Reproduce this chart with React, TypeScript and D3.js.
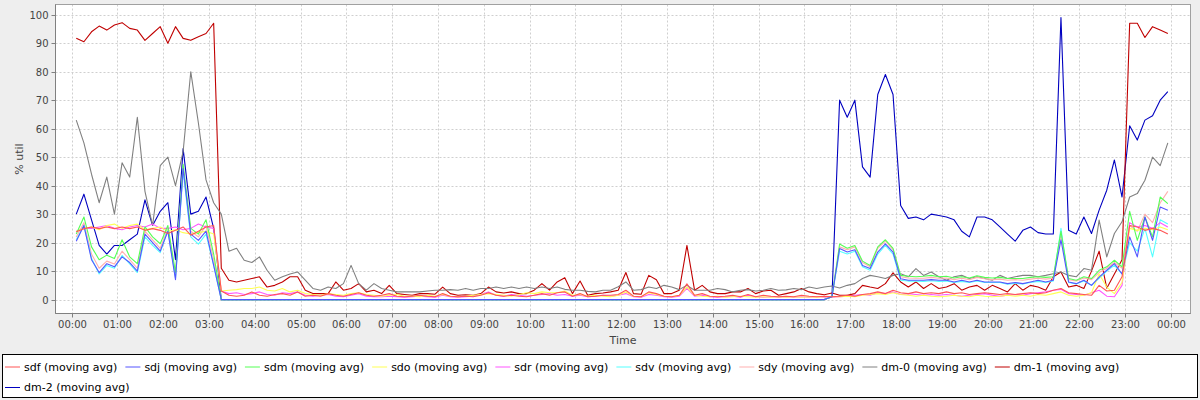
import React, { useEffect, useRef } from 'react';
import * as d3 from 'd3';

// time axis: first sample at 00:06, one sample every 10 minutes (144 samples)
const START_MIN = 6;
const STEP_MIN = 10;
const hourTicks = [0, 1, 2, 3, 4, 5, 6, 7, 8, 9, 10, 11, 12, 13, 14, 15, 16, 17, 18, 19, 20, 21, 22, 23, 24];
const yTicks = [0, 10, 20, 30, 40, 50, 60, 70, 80, 90, 100];

const seriesNames = [
  'sdf (moving avg)', 'sdj (moving avg)', 'sdm (moving avg)', 'sdo (moving avg)', 'sdr (moving avg)',
  'sdv (moving avg)', 'sdy (moving avg)', 'dm-0 (moving avg)', 'dm-1 (moving avg)', 'dm-2 (moving avg)',
];
const seriesColors = ['#ff5555', '#5555ff', '#55ff55', '#ffff55', '#ff55ff', '#55ffff', '#ffafaf', '#808080', '#c00000', '#0000c0'];

const sdf = [
  23.8, 24.9, 25.5, 24.9, 25.5, 24.9, 25.5, 24.9, 25.5, 24.3,
  24.9, 24.3, 23.2, 24.3, 25.5, 22.6, 24, 25.5, 26, 3,
  1.5, 1.2, 1.5, 2.7, 1.5, 1.2, 1.8, 2.1, 1.5, 2.7,
  1.2, 1.5, 1.2, 2.1, 1.5, 1.2, 1.8, 2.4, 1.5, 1.2,
  1.5, 2.1, 1.2, 1.0, 1.2, 1.5, 1.2, 1.0, 2.1, 1.2,
  1.0, 1.2, 1.0, 1.5, 2.4, 1.5, 1.2, 1.5, 1.2, 1.0,
  1.5, 2.1, 1.5, 2.4, 2.7, 1.2, 2.1, 1.0, 1.2, 1.5,
  1.5, 1.8, 3.3, 1.2, 1.0, 2.7, 2.1, 1.2, 1.0, 1.5,
  5.5, 1.5, 2.1, 1.2, 1.0, 1.2, 1.5, 1.0, 1.8, 1.0,
  1.5, 1.2, 1.0, 1.2, 1.0, 1.5, 1.2, 1.0, 1.2, 1.0,
  1.2, 1.5, 1.2, 1.8, 2.1, 2.7, 2.1, 3.3, 2.4, 2.1,
  2.7, 2.1, 2.4, 2.1, 2.7, 2.1, 2.4, 1.8, 2.1, 2.4,
  2.1, 1.8, 2.1, 1.8, 2.1, 2.4, 2.1, 2.4, 3.3, 3.9,
  2.4, 2.1, 1.8, 1.5, 5, 3, 3.3, 8, 26, 25.5,
  24.3, 25, 24.3, 23,
];

const sdj = [
  20.5, 26, 14, 9.5, 12.6, 11.5, 15, 13, 10, 23,
  20, 17, 24, 7, 46, 23, 20.8, 24, 12, 0,
  0, 0, 0, 0, 0, 0, 0, 0, 0, 0,
  0, 0, 0, 0, 0, 0, 0, 0, 0, 0,
  0, 0, 0, 0, 0, 0, 0, 0, 0, 0,
  0, 0, 0, 0, 0, 0, 0, 0, 0, 0,
  0, 0, 0, 0, 0, 0, 0, 0, 0, 0,
  0, 0, 0, 0, 0, 0, 0, 0, 0, 0,
  0, 0, 0, 0, 0, 0, 0, 0, 0, 0,
  0, 0, 0, 0, 0, 0, 0, 0, 0, 1,
  17.9, 16.7, 17.5, 12, 10.9, 16.7, 19.6, 16.7, 7.3, 6.8,
  6.8, 6.8, 7, 6.8, 6.8, 6.2, 6.8, 6.2, 6.8, 6.2,
  6.2, 6.2, 5.6, 6, 5.6, 6.2, 6.8, 6.2, 6.8, 21,
  6.2, 5.6, 6.8, 5, 7.9, 10.3, 12.6, 9, 22, 15,
  29, 20.8, 32.5, 31.4,
];

const sdm = [
  23, 29, 18.5, 14, 15.6, 14.4, 21, 15, 12.6, 25.5,
  22, 19.6, 26, 9.5, 47.5, 25, 23, 28, 16, 0,
  0, 0, 0, 0, 0, 0, 0, 0, 0, 0,
  0, 0, 0, 0, 0, 0, 0, 0, 0, 0,
  0, 0, 0, 0, 0, 0, 0, 0, 0, 0,
  0, 0, 0, 0, 0, 0, 0, 0, 0, 0,
  0, 0, 0, 0, 0, 0, 0, 0, 0, 0,
  0, 0, 0, 0, 0, 0, 0, 0, 0, 0,
  0, 0, 0, 0, 0, 0, 0, 0, 0, 0,
  0, 0, 0, 0, 0, 0, 0, 0, 0, 1,
  19.5, 18, 19, 13.5, 12, 18.5, 21, 18, 8.5, 8.2,
  8, 8.2, 8.5, 8, 8.2, 7.6, 8, 7.6, 8.4, 7.8,
  7.6, 7.8, 7.4, 7.4, 7.4, 7.8, 8, 7.8, 8, 24,
  7.4, 6.8, 8, 7.4, 10.3, 11.5, 13.8, 11.5, 31, 20.8,
  29, 22, 36, 33.7,
];

const sdo = [
  24, 25, 25.5, 24.5, 26, 26.5, 25, 26, 26.5, 24.5,
  25, 25.5, 24, 24.5, 23.5, 23, 23.5, 24, 23, 3,
  3.3, 3.5, 3.9, 3.9, 4.4, 3.3, 3.0, 3.9, 2.7, 3.3,
  2.1, 1.8, 1.5, 2.1, 1.8, 1.5, 2.1, 2.4, 1.8, 1.5,
  1.2, 1.5, 1.8, 1.2, 1.2, 1.0, 1.5, 1.2, 1.8, 1.2,
  1.0, 1.2, 1.5, 1.8, 2.1, 1.8, 1.5, 1.2, 1.8, 2.4,
  2.1, 2.7, 2.4, 2.4, 3.0, 1.5, 1.8, 1.2, 1.5, 1.2,
  1.0, 1.5, 2.7, 1.2, 1.0, 2.4, 1.8, 1.2, 1.0, 1.5,
  4.4, 1.5, 1.2, 1.0, 1.2, 0.8, 1.0, 1.2, 1.0, 0.8,
  1.0, 0.8, 1.0, 0.8, 1.0, 0.8, 1.0, 0.8, 1.0, 1.0,
  1.0, 1.2, 1.0, 1.5, 1.8, 2.1, 1.8, 2.4, 1.8, 1.5,
  1.2, 1.5, 1.2, 1.0, 1.2, 1.5, 1.2, 1.0, 1.5, 1.2,
  1.0, 1.2, 1.5, 1.2, 1.5, 1.2, 1.8, 1.5, 2.1, 2.7,
  1.5, 1.2, 1.5, 2.4, 9, 4.4, 2.1, 6, 25, 24.3,
  25, 24.5, 25.5, 24.5,
];

const sdr = [
  24, 25, 25, 25.5, 26, 25, 24.5, 25.5, 26, 25.5,
  26.5, 25, 25, 25.5, 24.5, 25, 26.5, 25.5, 25, 3,
  2.1, 2.4, 1.8, 2.1, 2.7, 1.8, 1.5, 2.4, 2.1, 2.7,
  1.5, 1.2, 1.5, 1.8, 1.2, 1.0, 1.5, 2.1, 1.2, 1.0,
  1.0, 1.2, 1.0, 0.8, 1.0, 1.2, 1.0, 0.8, 1.5, 1.0,
  0.8, 1.0, 1.2, 1.8, 2.7, 1.5, 1.2, 1.8, 1.5, 1.2,
  1.5, 1.8, 2.1, 1.5, 1.8, 1.2, 1.5, 1.0, 1.2, 1.5,
  1.2, 1.5, 2.1, 1.0, 0.8, 1.8, 1.5, 1.0, 0.8, 1.2,
  3.9, 1.2, 1.5, 1.0, 0.8, 1.0, 1.2, 0.8, 1.5, 1.0,
  0.8, 1.0, 0.8, 1.0, 0.8, 1.0, 0.8, 1.0, 0.8, 0.8,
  1.0, 1.2, 1.5, 1.8, 1.5, 2.4, 2.1, 2.7, 1.8, 2.1,
  1.8, 1.5, 1.8, 1.5, 1.8, 1.5, 1.2, 1.5, 1.8, 2.1,
  1.5, 1.2, 1.5, 1.8, 1.5, 2.1, 2.4, 2.7, 3.3, 3.6,
  2.1, 1.8, 1.5, 2.4, 3.3, 1.2, 1.0, 5, 27, 25.5,
  26, 25, 27, 25.5,
];

const sdv = [
  21, 26, 14.5, 9, 12, 11, 15.5, 12.5, 9.5, 22,
  19, 16.5, 24.5, 7.5, 45, 22, 19.5, 23, 12, 0,
  0, 0, 0, 0, 0, 0, 0, 0, 0, 0,
  0, 0, 0, 0, 0, 0, 0, 0, 0, 0,
  0, 0, 0, 0, 0, 0, 0, 0, 0, 0,
  0, 0, 0, 0, 0, 0, 0, 0, 0, 0,
  0, 0, 0, 0, 0, 0, 0, 0, 0, 0,
  0, 0, 0, 0, 0, 0, 0, 0, 0, 0,
  0, 0, 0, 0, 0, 0, 0, 0, 0, 0,
  0, 0, 0, 0, 0, 0, 0, 0, 0, 1,
  17, 16, 17, 11.5, 10.3, 16, 19, 16, 6.8, 6.5,
  6.5, 6.4, 6.6, 6.4, 6.5, 6, 6.4, 6, 6.5, 6,
  6, 6, 5.4, 5.7, 5.5, 6, 6.4, 6, 6.5, 25,
  6, 5.5, 6.5, 5, 7.5, 10, 12, 9, 20, 17,
  25, 15, 28, 26.5,
];

const sdy = [
  22, 27, 16, 11, 13.5, 12.5, 17, 14, 11, 24,
  21, 18, 25, 8.5, 46, 24, 22, 26, 14, 0,
  0, 0, 0, 0, 0, 0, 0, 0, 0, 0,
  0, 0, 0, 0, 0, 0, 0, 0, 0, 0,
  0, 0, 0, 0, 0, 0, 0, 0, 0, 0,
  0, 0, 0, 0, 0, 0, 0, 0, 0, 0,
  0, 0, 0, 0, 0, 0, 0, 0, 0, 0,
  0, 0, 0, 0, 0, 0, 0, 0, 0, 0,
  0, 0, 0, 0, 0, 0, 0, 0, 0, 0,
  0, 0, 0, 0, 0, 0, 0, 0, 0, 1,
  18.5, 17.5, 18.5, 13, 11.5, 18, 20.5, 17.5, 8, 7.6,
  7.5, 7.5, 7.8, 7.5, 7.6, 7, 7.5, 7, 7.8, 7.3,
  7, 7.2, 6.8, 7, 6.8, 7.2, 7.5, 7.2, 7.5, 23,
  7, 6.5, 7.6, 7, 9.5, 11, 13, 11, 26, 24,
  30, 27, 34, 38,
];

const dm0 = [
  63, 55, 44, 34, 43, 30, 48, 43, 64, 38,
  26, 47, 50, 40, 52, 80, 62, 42, 34, 30,
  17, 18, 13.8, 13, 15, 10.3, 6.8, 8, 9, 9.7,
  6.8, 3.9, 3.3, 4.4, 3.9, 5.6, 12, 5.6, 3.3, 5.6,
  3.9, 3.3, 2.7, 2.7, 2.7, 2.7, 3, 3.3, 3.3, 3.5,
  3.3, 3.9, 3.3, 3.9, 3.9, 4.4, 3.9, 4.4, 3.9, 4.4,
  3.9, 4.4, 3.9, 4.4, 3.6, 3.3, 3.3, 2.9, 2.7, 3.3,
  3.3, 4.5, 6.2, 3.3, 3.5, 4.4, 3.9, 5, 4.4, 3.5,
  5, 3.3, 3.3, 3.3, 3.9, 3.5, 2.7, 3.3, 3.5, 3,
  3.3, 3.9, 3.3, 3.4, 3.9, 3.5, 4.4, 3.9, 4.4, 4.8,
  4.1, 5, 5.6, 7.4, 8.5, 8, 7.4, 8.5, 9.1, 8,
  10.9, 8.5, 9.7, 8, 6.8, 8, 8.5, 7.4, 8, 7.4,
  6.8, 8.5, 7.4, 8, 8.5, 8.5, 8, 8.5, 9.1, 9.7,
  8.5, 8, 10.9, 10.3, 27.9, 15, 23.2, 27.3, 36, 37.2,
  41.9, 50, 47, 55,
];

const dm1 = [
  91.7, 90.5, 94, 96, 94.6, 96.4, 97.2, 95.2, 94.6, 91,
  93.4, 95.8, 90, 95.8, 91.7, 91, 92.3, 93.4, 97, 11,
  6.8, 6.2, 6.8, 7.4, 8, 4.4, 5, 6.2, 8, 8,
  3.3, 2.1, 2.1, 2.1, 6.2, 3.3, 3.9, 5.6, 2.7, 3.3,
  2.1, 5, 2.1, 1.8, 1.5, 2.1, 2.1, 1.9, 4.4, 2.1,
  1.5, 1.7, 1.5, 2.1, 4.4, 2.7, 2.3, 2.7, 2.1, 2.1,
  3.3, 5.6, 3.3, 6.2, 7.7, 2.1, 6.5, 1.5, 2.1, 2.3,
  2.7, 3.3, 9.5, 2.1, 1.9, 8.5, 7, 2.1, 2.1, 3.3,
  19, 3.3, 5, 2.7, 2.1, 2.1, 2.7, 2.7, 3.9, 2.1,
  3, 3.3, 1.5, 2.1, 2.7, 3.9, 2.7, 2.1, 1.7, 2.3,
  1.5, 1.5, 2.1, 5, 4.4, 3.9, 5.6, 9.4, 6.2, 4.4,
  6.2, 3.9, 5.6, 3.9, 4.4, 5.6, 3.3, 4.4, 5, 3.3,
  5, 3.9, 2.7, 5.6, 3.3, 5, 4.4, 3.3, 8, 9.7,
  4.4, 5, 3.9, 10, 17, 4, 9, 14, 97, 97,
  92, 95.8, 94.6, 93.4,
];

const dm2 = [
  30, 37, 28, 19, 16, 19, 19, 21, 23, 35,
  26, 31, 34, 14, 53, 30, 31, 36, 25, 0,
  0, 0, 0, 0, 0, 0, 0, 0, 0, 0,
  0, 0, 0, 0, 0, 0, 0, 0, 0, 0,
  0, 0, 0, 0, 0, 0, 0, 0, 0, 0,
  0, 0, 0, 0, 0, 0, 0, 0, 0, 0,
  0, 0, 0, 0, 0, 0, 0, 0, 0, 0,
  0, 0, 0, 0, 0, 0, 0, 0, 0, 0,
  0, 0, 0, 0, 0, 0, 0, 0, 0, 0,
  0, 0, 0, 0, 0, 0, 0, 0, 0, 1,
  70, 64, 70, 46.6, 43, 72, 79, 72, 33, 28.5,
  29, 28, 30, 29.5, 29, 28, 24, 22, 29, 29,
  28, 25.5, 23, 20.5, 24.3, 25.5, 23.5, 23, 23, 99,
  24.3, 23, 29, 23.2, 31.4, 38.4, 49, 36, 61, 56,
  63, 64.5, 70, 73,
];

const seriesValues = [sdf, sdj, sdm, sdo, sdr, sdv, sdy, dm0, dm1, dm2];

const FONT = '"DejaVu Sans", Verdana, sans-serif';

function fmtHour(h: number) {
  const hh = h % 24;
  return (hh < 10 ? '0' : '') + hh + ':00';
}

export default function App() {
  const ref = useRef<SVGSVGElement>(null);

  useEffect(() => {
    const svg = d3.select(ref.current as SVGSVGElement);
    svg.selectAll('*').remove();

    const W = 1200, H = 400;
    const plot = { left: 55.5, top: 4.5, right: 1190.5, bottom: 313.5 };

    const x = d3.scaleLinear().domain([-21.2, 1465.7]).range([plot.left, plot.right]);
    const y = d3.scaleLinear().domain([-4.81, 103.58]).range([plot.bottom - 0.2, plot.top]);

    svg.append('rect').attr('width', W).attr('height', H).attr('fill', '#eeeeee');
    svg.append('rect')
      .attr('x', plot.left).attr('y', plot.top)
      .attr('width', plot.right - plot.left).attr('height', plot.bottom - plot.top)
      .attr('fill', '#ffffff');

    // gridlines
    const grid = svg.append('g').attr('stroke', '#cfcfcf').attr('stroke-width', 1).attr('stroke-dasharray', '2,2');
    hourTicks.forEach((h) => {
      const px = Math.round(x(h * 60)) + 0.5;
      grid.append('line').attr('x1', px).attr('x2', px).attr('y1', plot.top).attr('y2', plot.bottom);
    });
    yTicks.forEach((v) => {
      const py = Math.round(y(v)) + 0.5;
      grid.append('line').attr('x1', plot.left).attr('x2', plot.right).attr('y1', py).attr('y2', py);
    });

    // clip
    svg.append('defs').append('clipPath').attr('id', 'plotclip')
      .append('rect').attr('x', plot.left).attr('y', plot.top)
      .attr('width', plot.right - plot.left).attr('height', plot.bottom - plot.top);

    const line = d3.line<number>()
      .x((_, i) => x(START_MIN + STEP_MIN * i))
      .y((d) => y(d));

    const lines = svg.append('g').attr('clip-path', 'url(#plotclip)');
    for (let s = seriesValues.length - 1; s >= 0; s--) {
      lines.append('path')
        .attr('d', line(seriesValues[s]) as string)
        .attr('fill', 'none')
        .attr('stroke', seriesColors[s])
        .attr('stroke-width', 1.1)
        .attr('stroke-linejoin', 'round');
    }

    // plot outline
    svg.append('rect')
      .attr('x', plot.left).attr('y', plot.top)
      .attr('width', plot.right - plot.left).attr('height', plot.bottom - plot.top)
      .attr('fill', 'none').attr('stroke', '#a0a0a0').attr('stroke-width', 1);
    // axis lines
    svg.append('line').attr('x1', plot.left).attr('x2', plot.left).attr('y1', plot.top).attr('y2', plot.bottom)
      .attr('stroke', '#808080');
    svg.append('line').attr('x1', plot.left).attr('x2', plot.right).attr('y1', plot.bottom).attr('y2', plot.bottom)
      .attr('stroke', '#808080');

    // y axis ticks
    const yAxis = svg.append('g');
    yTicks.forEach((v) => {
      const py = Math.round(y(v)) + 0.5;
      yAxis.append('line').attr('x1', plot.left - 4).attr('x2', plot.left).attr('y1', py).attr('y2', py)
        .attr('stroke', '#808080');
      yAxis.append('text').attr('x', 48.5).attr('y', py + 3.5)
        .attr('text-anchor', 'end').attr('font-family', FONT).attr('font-size', 10)
        .attr('fill', '#444444').text(String(v));
    });

    // x axis ticks
    const xAxis = svg.append('g');
    hourTicks.forEach((h) => {
      const px = Math.round(x(h * 60)) + 0.5;
      xAxis.append('line').attr('x1', px).attr('x2', px).attr('y1', plot.bottom).attr('y2', plot.bottom + 4)
        .attr('stroke', '#808080');
      xAxis.append('text').attr('x', px).attr('y', 328)
        .attr('text-anchor', 'middle').attr('font-family', FONT).attr('font-size', 10)
        .attr('fill', '#444444').text(fmtHour(h));
    });

    // axis labels
    svg.append('text').attr('x', (plot.left + plot.right) / 2).attr('y', 344)
      .attr('text-anchor', 'middle').attr('font-family', FONT).attr('font-size', 11)
      .attr('fill', '#444444').text('Time');
    svg.append('text').attr('transform', `translate(23,${(plot.top + plot.bottom) / 2}) rotate(-90)`)
      .attr('text-anchor', 'middle').attr('font-family', FONT).attr('font-size', 11)
      .attr('fill', '#444444').text('% util');

    // legend
    const lg = svg.append('g');
    lg.append('rect').attr('x', 2.5).attr('y', 354.5).attr('width', 1195).attr('height', 43)
      .attr('fill', '#ffffff').attr('stroke', '#000000');
    let cx = 5;
    let row = 0;
    const rowY = [366.5, 387];
    seriesNames.forEach((name, s) => {
      const t = lg.append('text').attr('font-family', FONT).attr('font-size', 11).attr('fill', '#000000')
        .text(name);
      const tw = (t.node() as SVGTextElement).getComputedTextLength();
      if (cx + 19 + tw > 1195) {
        row += 1;
        cx = 5;
      }
      const cy = rowY[row];
      lg.append('line').attr('x1', cx).attr('x2', cx + 15).attr('y1', cy + 0.5).attr('y2', cy + 0.5)
        .attr('stroke', seriesColors[s]).attr('stroke-width', 1);
      t.attr('x', cx + 19).attr('y', cy + 4);
      cx = cx + 19 + tw + 8;
    });
  }, []);

  return (
    <div style={{ position: 'fixed', left: 0, top: 0 }}>
      <svg ref={ref} width={1200} height={400} style={{ display: 'block' }} />
    </div>
  );
}
